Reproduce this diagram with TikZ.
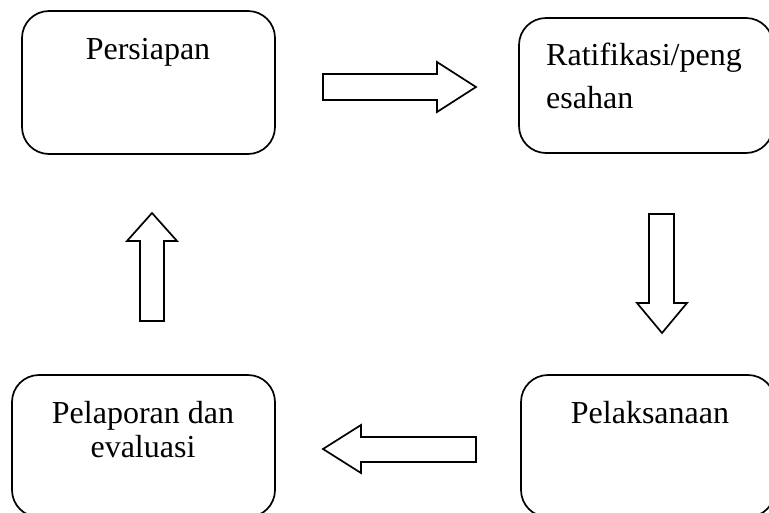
\documentclass[tikz,border=0pt]{standalone}
\usepackage{fontspec}
\setmainfont{Liberation Serif}
\begin{document}
\begin{tikzpicture}[x=1pt,y=-1pt,
  box/.style={draw=black,line width=1.7pt,rounded corners=27pt,inner sep=0pt,fill=white},
  txt/.style={font=\fontsize{32}{43}\selectfont,inner sep=0pt},
  barrow/.style={draw=black,line width=1.7pt,fill=white,line join=miter}]
\clip (0,0) rectangle (769,512);
\fill[white] (0,0) rectangle (769,512);
% boxes
\node[box,minimum width=253pt,minimum height=143pt] (prep) at (148.5,82.5) {};
\node[box,minimum width=254pt,minimum height=135pt] (rat) at (646,85.5) {};
\node[box,minimum width=263pt,minimum height=142pt] (lap) at (143.5,446) {};
\node[box,minimum width=254pt,minimum height=142pt] (pel) at (648,446) {};
% texts
\node[txt,anchor=base] (tprep) at (148,59) {Persiapan};
\node[txt,anchor=base west,align=left] (trat) at (546,108) {Ratifikasi/peng\\esahan};
\node[txt,anchor=base,align=center,font=\fontsize{32}{34}\selectfont] (tlap) at (143,457) {Pelaporan dan\\evaluasi};
\node[txt,anchor=base] (tpel) at (650,423) {Pelaksanaan};
% block arrows
\draw[barrow] (323,74) -- (437,74) -- (437,62) -- (476,87) -- (437,112) -- (437,100) -- (323,100) -- cycle;
\draw[barrow] (649,214) -- (674,214) -- (674,303) -- (687,303) -- (662,333) -- (637,303) -- (649,303) -- cycle;
\draw[barrow] (476,437) -- (361,437) -- (361,425) -- (323,449) -- (361,473) -- (361,462) -- (476,462) -- cycle;
\draw[barrow] (140,321) -- (140,241) -- (127,241) -- (152,213) -- (177,241) -- (164,241) -- (164,321) -- cycle;
\end{tikzpicture}
\end{document}
